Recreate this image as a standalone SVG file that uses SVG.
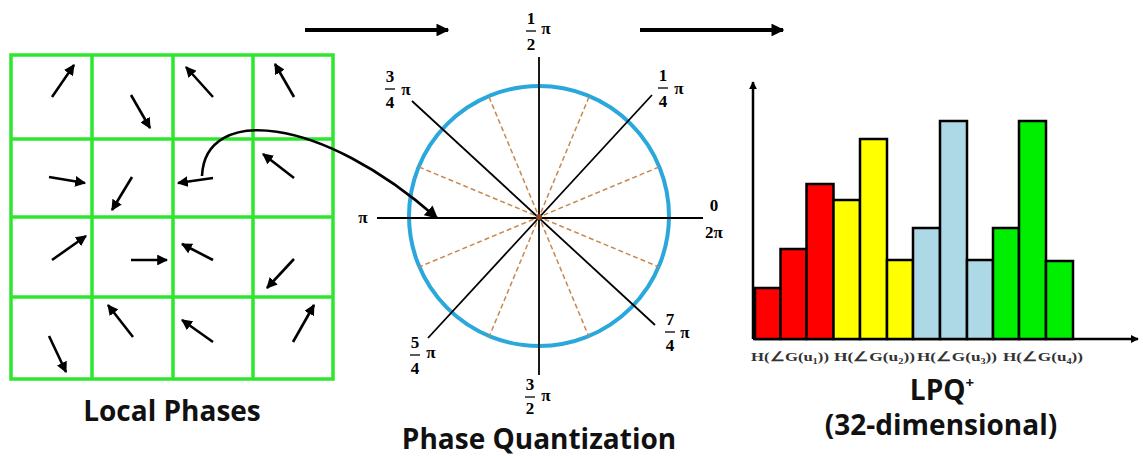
<svg xmlns="http://www.w3.org/2000/svg" width="1143" height="456" viewBox="0 0 1143 456">
<defs>
<marker id="ah" viewBox="0 0 10 10" refX="9" refY="5" markerWidth="4.2" markerHeight="4.2" orient="auto" markerUnits="strokeWidth">
<path d="M0,0 L10,5 L0,10 Z" fill="#000"/>
</marker>
<marker id="ahbig" viewBox="0 0 10 10" refX="9" refY="5" markerWidth="3.2" markerHeight="3.2" orient="auto" markerUnits="strokeWidth">
<path d="M0,0 L10,5 L0,10 Z" fill="#000"/>
</marker>
<marker id="ahcurve" viewBox="0 0 10 10" refX="9" refY="5" markerWidth="5" markerHeight="5" orient="auto" markerUnits="strokeWidth">
<path d="M0,0 L10,5 L0,10 Z" fill="#000"/>
</marker>
</defs>
<style>
.grid{fill:none;stroke:#2ee62e;stroke-width:3.5}
.pa{stroke:#000;stroke-width:2.6;fill:none;marker-end:url(#ah)}
.ax{stroke:#000;stroke-width:1.8}
.dash{stroke:#c8874f;stroke-width:1.5;stroke-dasharray:5,3}
.fr{font-family:"Liberation Serif","Times New Roman",serif;font-weight:bold;font-size:17px;fill:#000;text-anchor:middle}
.fb{stroke:#000;stroke-width:1.3}
.title{font-family:"Open Sans","Liberation Sans",sans-serif;font-weight:bold;font-size:28px;fill:#111;text-anchor:middle}
.bar{stroke:#000;stroke-width:2.5}
.hl{font-family:"Liberation Serif","Times New Roman",serif;font-weight:bold;font-size:13px;fill:#333}
</style>

<g id="local-phases">
<rect class="grid" x="11" y="55" width="322" height="324"/>
<line class="grid" x1="92" y1="55" x2="92" y2="379"/>
<line class="grid" x1="173" y1="55" x2="173" y2="379"/>
<line class="grid" x1="253" y1="55" x2="253" y2="379"/>
<line class="grid" x1="11" y1="139" x2="333" y2="139"/>
<line class="grid" x1="11" y1="217" x2="333" y2="217"/>
<line class="grid" x1="11" y1="297" x2="333" y2="297"/>
<line class="pa" x1="52" y1="97" x2="74" y2="65"/>
<line class="pa" x1="131" y1="95" x2="150" y2="128"/>
<line class="pa" x1="213" y1="97" x2="186" y2="67"/>
<line class="pa" x1="294" y1="97" x2="275" y2="64"/>
<line class="pa" x1="49" y1="177" x2="85" y2="183"/>
<line class="pa" x1="132" y1="177" x2="112" y2="210"/>
<line class="pa" x1="213" y1="178" x2="178" y2="183"/>
<line class="pa" x1="294" y1="178" x2="263" y2="154"/>
<line class="pa" x1="52" y1="260" x2="86" y2="236"/>
<line class="pa" x1="131" y1="260" x2="167" y2="260"/>
<line class="pa" x1="213" y1="260" x2="182" y2="244"/>
<line class="pa" x1="294" y1="259" x2="267" y2="288"/>
<line class="pa" x1="49" y1="336" x2="66" y2="372"/>
<line class="pa" x1="133" y1="337" x2="108" y2="305"/>
<line class="pa" x1="213" y1="342" x2="182" y2="320"/>
<line class="pa" x1="293" y1="342" x2="314" y2="305"/>
<text class="title" x="172" y="421">Local Phases</text>
</g>

<g id="phase-quantization">
<circle cx="539" cy="216" r="130" fill="none" stroke="#2aa8dc" stroke-width="4"/>
<line class="dash" x1="659" y1="167" x2="419" y2="267"/>
<line class="dash" x1="589" y1="97" x2="489" y2="337"/>
<line class="dash" x1="489" y1="97" x2="589" y2="337"/>
<line class="dash" x1="419" y1="167" x2="659" y2="267"/>
<line class="ax" x1="539" y1="57" x2="539" y2="375"/>
<line class="ax" x1="377" y1="218" x2="703" y2="218"/>
<line class="ax" x1="412" y1="101" x2="655" y2="325"/>
<line class="ax" x1="652" y1="95" x2="428" y2="338"/>
<circle cx="539" cy="217" r="3" fill="#8a4a1a"/>
<text class="fr" x="531" y="24">1</text><line class="fb" x1="526" y1="31" x2="536" y2="31"/><text class="fr" x="531" y="50">2</text><text class="fr" x="546" y="34">π</text>
<text class="fr" x="390" y="82">3</text><line class="fb" x1="385" y1="89" x2="395" y2="89"/><text class="fr" x="390" y="108">4</text><text class="fr" x="406" y="95">π</text>
<text class="fr" x="663" y="81">1</text><line class="fb" x1="658" y1="88" x2="668" y2="88"/><text class="fr" x="663" y="107">4</text><text class="fr" x="679" y="94">π</text>
<text class="fr" x="363" y="223">π</text>
<text class="fr" x="714" y="211">0</text><text class="fr" x="714" y="238">2π</text>
<text class="fr" x="415" y="348">5</text><line class="fb" x1="410" y1="355" x2="420" y2="355"/><text class="fr" x="415" y="374">4</text><text class="fr" x="431" y="358">π</text>
<text class="fr" x="670" y="325">7</text><line class="fb" x1="665" y1="332" x2="675" y2="332"/><text class="fr" x="670" y="351">4</text><text class="fr" x="685" y="338">π</text>
<text class="fr" x="530" y="390">3</text><line class="fb" x1="525" y1="397" x2="535" y2="397"/><text class="fr" x="530" y="414" font-size="16">2</text><text class="fr" x="546" y="401">π</text>
<text class="title" x="539" y="449">Phase Quantization</text>
</g>

<g id="histogram">
<line x1="753" y1="339" x2="753" y2="82" stroke="#000" stroke-width="2.5" marker-end="url(#ahbig)"/>
<line x1="753" y1="339" x2="1138" y2="339" stroke="#000" stroke-width="2.5" marker-end="url(#ahbig)"/>
<rect class="bar" x="755" y="288" width="25.5" height="51" fill="#ff0000"/>
<rect class="bar" x="780.5" y="249" width="26" height="90" fill="#ff0000"/>
<rect class="bar" x="806.5" y="184" width="27" height="155" fill="#ff0000"/>
<rect class="bar" x="833.5" y="200" width="26.5" height="139" fill="#ffff00"/>
<rect class="bar" x="860" y="139" width="27" height="200" fill="#ffff00"/>
<rect class="bar" x="887" y="260" width="26" height="79" fill="#ffff00"/>
<rect class="bar" x="913" y="228" width="27" height="111" fill="#add8e6"/>
<rect class="bar" x="940" y="121" width="27" height="218" fill="#add8e6"/>
<rect class="bar" x="967" y="260" width="26" height="79" fill="#add8e6"/>
<rect class="bar" x="993" y="228" width="26" height="111" fill="#00ee00"/>
<rect class="bar" x="1019" y="121" width="27" height="218" fill="#00ee00"/>
<rect class="bar" x="1046" y="261" width="27" height="78" fill="#00ee00"/>
<text class="hl" x="751" y="361" textLength="78" lengthAdjust="spacingAndGlyphs">H(∠G(u₁))</text>
<text class="hl" x="834" y="361" textLength="81" lengthAdjust="spacingAndGlyphs">H(∠G(u₂))</text>
<text class="hl" x="917" y="361" textLength="80" lengthAdjust="spacingAndGlyphs">H(∠G(u₃))</text>
<text class="hl" x="1003" y="361" textLength="80" lengthAdjust="spacingAndGlyphs">H(∠G(u₄))</text>
<text class="title" x="942" y="400" font-size="27">LPQ<tspan font-size="15" dy="-12">+</tspan></text>
<text class="title" x="941" y="435" font-size="27">(32-dimensional)</text>
</g>

<g id="connectors">
<line x1="305" y1="30" x2="448" y2="30" stroke="#000" stroke-width="4" marker-end="url(#ahbig)"/>
<line x1="640" y1="30" x2="783" y2="30" stroke="#000" stroke-width="4" marker-end="url(#ahbig)"/>
<path d="M202,176 C205,105 320,115 437,218" fill="none" stroke="#000" stroke-width="2.6" marker-end="url(#ahcurve)"/>
</g>
</svg>
